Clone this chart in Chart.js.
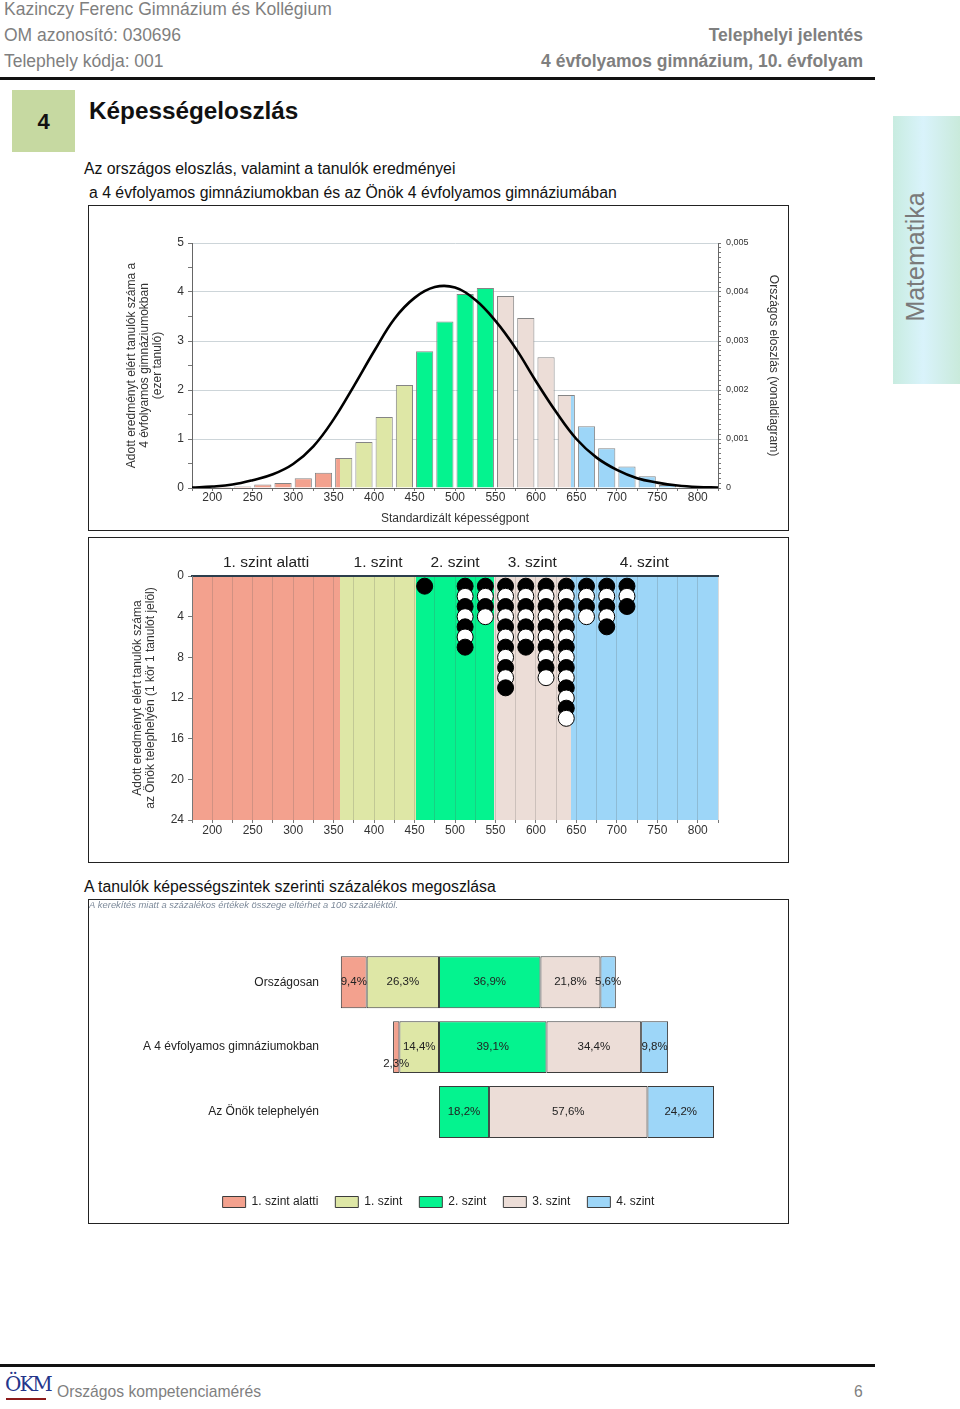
<!DOCTYPE html>
<html lang="hu">
<head>
<meta charset="utf-8">
<title>Képességeloszlás</title>
<script src="https://cdn.jsdelivr.net/npm/chart.js@4.4.1/dist/chart.umd.min.js"></script>
<style>
  body { margin: 0; width: 960px; height: 1409px; position: relative; background: #fff;
         font-family: "Liberation Sans", Arial, sans-serif; overflow: hidden; }
  .abs { position: absolute; white-space: nowrap; line-height: 1; }
  .head { color: #7f7f7f; font-size: 17.5px; }
  .headr { color: #7f7f7f; font-size: 17.5px; font-weight: bold; right: 97px; }
  .rule { position: absolute; left: 0; width: 875px; height: 3px; background: #111; }
  .box { position: absolute; left: 88px; width: 699px; border: 1px solid #222; }
  .box canvas { display: block; }
  .txt { font-size: 15.8px; color: #111; }
</style>
</head>
<body>

<div class="abs head" style="left:4px; top:1px;">Kazinczy Ferenc Gimnázium és Kollégium</div>
<div class="abs head" style="left:4px; top:27px;">OM azonosító: 030696</div>
<div class="abs head" style="left:4px; top:53px;">Telephely kódja: 001</div>
<div class="abs headr" style="top:27px;">Telephelyi jelentés</div>
<div class="abs headr" style="top:53px;">4 évfolyamos gimnázium, 10. évfolyam</div>
<div class="rule" style="top:77px;"></div>

<div class="abs" style="left:12px; top:90px; width:63px; height:62px; background:#c6d9a1;"></div>
<div class="abs" style="left:12px; top:111px; width:63px; text-align:center; font-size:22px; font-weight:bold; color:#111;">4</div>
<div class="abs" style="left:89px; top:99px; font-size:24.3px; font-weight:bold; color:#111;">Képességeloszlás</div>

<div class="abs" style="left:893px; top:116px; width:67px; height:268px; background:linear-gradient(to right, #c8ece0, #d9f3fb 45%, #c9eadb);"></div>
<div class="abs" style="left:915px; top:257px; transform:translate(-50%,-50%) rotate(-90deg); font-size:25px; color:#7a7a7a;">Matematika</div>

<div class="abs txt" style="left:84px; top:161px;">Az országos eloszlás, valamint a tanulók eredményei</div>
<div class="abs txt" style="left:89px; top:185px;">a 4 évfolyamos gimnáziumokban és az Önök 4 évfolyamos gimnáziumában</div>

<div class="box" style="top:205px; height:324px;"><canvas id="distChart" width="699" height="324"></canvas></div>
<div class="box" style="top:537px; height:324px;"><canvas id="dotChart" width="699" height="324"></canvas></div>

<div class="abs txt" style="left:84px; top:879px;">A tanulók képességszintek szerinti százalékos megoszlása</div>
<div class="box" style="top:899px; height:323px;"><canvas id="shareChart" width="699" height="323"></canvas></div>

<div class="rule" style="top:1364px;"></div>
<div class="abs" style="left:5px; top:1374px; font-family:'DejaVu Serif', serif; font-size:20px; color:#24358a; letter-spacing:-2px;">ÖKM</div>
<div class="abs" style="left:6px; top:1398px; width:40px; height:2px; background:#8b1a1a;"></div>
<div class="abs head" style="left:57px; top:1384px; font-size:15.7px;">Országos kompetenciamérés</div>
<div class="abs head" style="left:854px; top:1384px; font-size:15.7px;">6</div>

<script>
// ---- data ----
var levelNames = ['1. szint alatti', '1. szint', '2. szint', '3. szint', '4. szint'];
var levelLimits = [175, 358, 452, 548, 643, 825];   // score limits of the levels
var levelColors = ['#f3a18e', '#dee7a6', '#04f38f', '#ecddd7', '#9dd6f8'];

// national distribution in 4-year grammar schools (thousand students, 25 point bins)
var binCenters = [212.5, 237.5, 262.5, 287.5, 312.5, 337.5, 362.5, 387.5, 412.5, 437.5, 462.5, 487.5,
                  512.5, 537.5, 562.5, 587.5, 612.5, 637.5, 662.5, 687.5, 712.5, 737.5, 762.5, 787.5];
var binCounts = [0.02, 0.03, 0.07, 0.10, 0.20, 0.31, 0.61, 0.94, 1.45, 2.10, 2.79, 3.40,
                 3.96, 4.08, 3.92, 3.47, 2.67, 1.90, 1.26, 0.81, 0.44, 0.24, 0.06, 0.02];

// national density curve (right axis)
var curveX = [175, 200, 225, 250, 275, 300, 325, 350, 375, 400, 425, 450, 475, 500,
              525, 550, 575, 600, 625, 650, 675, 700, 725, 750, 775, 800, 825];
var curveY = [0.00001, 0.00003, 0.00007, 0.00016, 0.00028, 0.00049, 0.00085, 0.00140, 0.00208, 0.00279, 0.00345, 0.00388, 0.00410, 0.00409,
              0.00384, 0.00341, 0.00285, 0.00218, 0.00155, 0.00100, 0.00062, 0.00037, 0.00020, 0.00011, 0.00005, 0.00002, 0.00001];

// students of this site: one circle per student
var dotColumns = [462.5, 512.5, 537.5, 562.5, 587.5, 612.5, 637.5, 662.5, 687.5, 712.5];
var dotCounts = [1, 7, 4, 11, 7, 10, 14, 4, 5, 3];

// percentage by level
var groupLabels = ['Országosan', 'A 4 évfolyamos gimnáziumokban', 'Az Önök telephelyén'];
var shareBelow1 = [9.4, 2.3, null];
var shareLevel1 = [26.3, 14.4, null];
var shareLevel2 = [36.9, 39.1, 18.2];
var shareLevel3 = [21.8, 34.4, 57.6];
var shareLevel4 = [5.6, 9.8, 24.2];

Chart.defaults.font.family = '"Liberation Sans", Arial, sans-serif';
Chart.defaults.color = '#333';
Chart.defaults.animation = false;
Chart.defaults.responsive = false;
Chart.defaults.devicePixelRatio = 1;
Chart.defaults.plugins.legend.display = false;
Chart.defaults.plugins.tooltip.enabled = false;

// colours bars / background by score position (hard stops at the level limits)
function levelGradient(chart) {
    var xs = chart.scales.x;
    if (!xs || !chart.chartArea) return levelColors[0];
    var x0 = xs.getPixelForValue(xs.min), x1 = xs.getPixelForValue(xs.max);
    if (!isFinite(x0) || !isFinite(x1) || x1 <= x0) return levelColors[0];
    var g = chart.ctx.createLinearGradient(x0, 0, x1, 0);
    for (var i = 0; i < levelColors.length; i++) {
        g.addColorStop((levelLimits[i] - xs.min) / (xs.max - xs.min), levelColors[i]);
        g.addColorStop((levelLimits[i + 1] - xs.min) / (xs.max - xs.min), levelColors[i]);
    }
    return g;
}

function fixSize(w, h) {
    return function (scale) {
        if (w !== null) scale.width = w;
        if (h !== null) scale.height = h;
    };
}

function isWhole(v, f) {
    return Math.abs(v * f - Math.round(v * f)) < 1e-6;
}

// ---- chart 1: histogram + national curve ----
new Chart(document.getElementById('distChart'), {
    type: 'bar',
    data: {
        datasets: [{
            type: 'line',
            data: curveX.map((x, i) => ({x: x, y: curveY[i]})),
            yAxisID: 'y2',
            borderColor: '#000',
            borderWidth: 2.6,
            pointRadius: 0,
            tension: 0.4,
            order: 0
        }, {
            data: binCenters.map((x, i) => ({x: x, y: binCounts[i]})),
            yAxisID: 'y',
            backgroundColor: (c) => levelGradient(c.chart),
            borderColor: '#858585',
            borderWidth: 1,
            barPercentage: 0.85,
            categoryPercentage: 1,
            order: 1
        }]
    },
    options: {
        layout: {padding: {top: 37, left: 0, right: 0, bottom: 0}},
        scales: {
            x: {
                type: 'linear', min: 175, max: 825, offset: false,
                grid: {offset: false, drawOnChartArea: false, tickLength: 3, tickColor: '#777'},
                border: {color: '#666'},
                ticks: {stepSize: 25, autoSkip: false, maxRotation: 0, padding: -1, font: {size: 12},
                        callback: (v) => v % 50 === 0 ? v : ''},
                title: {display: true, text: 'Standardizált képességpont', font: {size: 12}, padding: {top: 4, bottom: 4}},
                afterFit: fixSize(null, 42)
            },
            y: {
                position: 'left', min: 0, max: 5,
                grid: {color: (c) => isWhole(c.tick.value, 1) ? '#cdd5d9' : 'rgba(0,0,0,0)', tickLength: 4, tickColor: '#777'},
                border: {color: '#666'},
                ticks: {stepSize: 0.5, autoSkip: false, padding: 4, font: {size: 12},
                        callback: (v) => isWhole(v, 1) ? v : ''},
                title: {display: true, font: {size: 12, lineHeight: 1.1}, padding: {top: 36, bottom: 0},
                        text: ['Adott eredményt elért tanulók száma a', '4 évfolyamos gimnáziumokban', '(ezer tanuló)']},
                afterFit: fixSize(103, null)
            },
            y2: {
                position: 'right', min: 0, max: 0.005,
                grid: {drawOnChartArea: false, tickLength: 3, tickColor: '#777'},
                border: {color: '#666'},
                ticks: {stepSize: 0.0001, autoSkip: false, padding: 5, font: {size: 9},
                        callback: (v) => v === 0 ? '0' : (isWhole(v, 1000) ? v.toFixed(3).replace('.', ',') : '')},
                title: {display: true, text: 'Országos eloszlás (vonaldiagram)', font: {size: 12}, padding: {top: 7, bottom: 0}},
                afterFit: fixSize(70, null)
            }
        }
    }
});

// ---- chart 2: students of the site ----
var dots = [], dotFill = [];
dotColumns.forEach(function (col, i) {
    for (var k = 1; k <= dotCounts[i]; k++) {
        dots.push({x: col, y: k});
        dotFill.push(k % 2 ? '#000' : '#fff');
    }
});
var levelCenters = levelNames.map((n, i) => (levelLimits[i] + levelLimits[i + 1]) / 2);

var bandPlugin = {
    id: 'bands',
    beforeDraw(chart) {
        var a = chart.chartArea;
        chart.ctx.save();
        chart.ctx.fillStyle = levelGradient(chart);
        chart.ctx.fillRect(a.left, a.top, a.right - a.left, a.bottom - a.top);
        chart.ctx.restore();
    }
};

new Chart(document.getElementById('dotChart'), {
    type: 'scatter',
    data: {
        datasets: [{
            data: dots,
            pointRadius: 8,
            pointBackgroundColor: dotFill,
            pointBorderColor: '#000',
            pointBorderWidth: 1
        }]
    },
    options: {
        layout: {padding: {left: 0, right: 70, top: 0, bottom: 0}},
        scales: {
            x: {
                type: 'linear', min: 175, max: 825,
                grid: {color: 'rgba(90,90,90,0.22)', tickLength: 3, tickColor: '#777'},
                border: {display: false},
                ticks: {stepSize: 25, autoSkip: false, maxRotation: 0, padding: 0, font: {size: 12},
                        callback: (v) => v % 50 === 0 ? v : ''},
                afterFit: fixSize(null, 42)
            },
            xTop: {
                type: 'linear', position: 'top', min: 175, max: 825,
                grid: {drawOnChartArea: false, drawTicks: false},
                border: {color: '#2c3e4c', width: 2},
                afterBuildTicks: (axis) => { axis.ticks = levelCenters.map((v) => ({value: v})); },
                ticks: {autoSkip: false, maxRotation: 0, padding: 4, color: '#222', font: {size: 15.5},
                        callback: (v, i) => levelNames[i]},
                afterFit: fixSize(null, 38)
            },
            y: {
                min: 0, max: 24, reverse: true,
                grid: {drawOnChartArea: false, tickLength: 4, tickColor: '#777'},
                border: {color: '#777'},
                ticks: {stepSize: 4, padding: 4, font: {size: 12}},
                title: {display: true, font: {size: 12, lineHeight: 1.1}, padding: {top: 42, bottom: 0},
                        text: ['Adott eredményt elért tanulók száma', 'az Önök telephelyén (1 kör 1 tanulót jelöl)']},
                afterFit: fixSize(103, null)
            }
        }
    },
    plugins: [bandPlugin]
});

// ---- chart 3: share by level ----
var shareLabels = {
    id: 'shareLabels',
    afterDatasetsDraw(chart) {
        var ctx = chart.ctx;
        ctx.save();
        ctx.font = '11.5px "Liberation Sans", Arial, sans-serif';
        ctx.fillStyle = '#222';
        ctx.textAlign = 'center';
        ctx.textBaseline = 'middle';
        chart.data.datasets.forEach(function (ds, di) {
            chart.getDatasetMeta(di).data.forEach(function (bar, i) {
                var v = ds.data[i];
                if (!v) return;
                var txt = Math.abs(v).toFixed(1).replace('.', ',') + '%';
                var cx = (bar.x + bar.base) / 2;
                var narrow = Math.abs(bar.x - bar.base) < 10;
                ctx.fillText(txt, cx, narrow ? bar.y + 17 : bar.y);
            });
        });
        ctx.restore();
    }
};

function shareSet(label, values, color, sign) {
    return {
        label: label,
        data: values.map((v) => v === null ? null : sign * v),
        backgroundColor: color,
        borderColor: '#3c3c3c',
        borderWidth: 1,
        borderSkipped: false,
        categoryPercentage: 0.8,
        barPercentage: 1
    };
}

new Chart(document.getElementById('shareChart'), {
    type: 'bar',
    data: {
        labels: groupLabels,
        // levels below 2 go to the left of the zero line, 1. szint next to it
        datasets: [
            shareSet(levelNames[1], shareLevel1, levelColors[1], -1),
            shareSet(levelNames[0], shareBelow1, levelColors[0], -1),
            shareSet(levelNames[2], shareLevel2, levelColors[2], 1),
            shareSet(levelNames[3], shareLevel3, levelColors[3], 1),
            shareSet(levelNames[4], shareLevel4, levelColors[4], 1)
        ]
    },
    options: {
        indexAxis: 'y',
        layout: {padding: {left: 0, right: 0, top: 0, bottom: 5}},
        plugins: {
            title: {display: true, align: 'start', color: '#7d8a9a',
                    text: 'A kerekítés miatt a százalékos értékek összege eltérhet a 100 százaléktól.',
                    font: {size: 9.4, style: 'italic', weight: 'normal', lineHeight: 1.15}, padding: {top: 0, bottom: 39}},
            legend: {display: true, position: 'bottom',
                     labels: {boxWidth: 23, boxHeight: 11, padding: 17, color: '#222', font: {size: 12},
                              sort: (a, b) => levelNames.indexOf(a.text) - levelNames.indexOf(b.text)}}
        },
        scales: {
            x: {
                stacked: true, min: -40, max: 100,
                grid: {display: false}, border: {display: false},
                ticks: {display: false},
                afterFit: fixSize(null, 34.5)
            },
            y: {
                stacked: true,
                grid: {display: false}, border: {display: false},
                ticks: {padding: 2, color: '#222', font: {size: 12}},
                afterFit: fixSize(240, null)
            },
            // empty right-hand axis: keeps the blank margin right of the bars
            yRight: {
                type: 'category', position: 'right',
                grid: {display: false}, border: {display: false},
                ticks: {display: false},
                afterFit: fixSize(74, null)
            }
        }
    },
    plugins: [shareLabels]
});
</script>
</body>
</html>
